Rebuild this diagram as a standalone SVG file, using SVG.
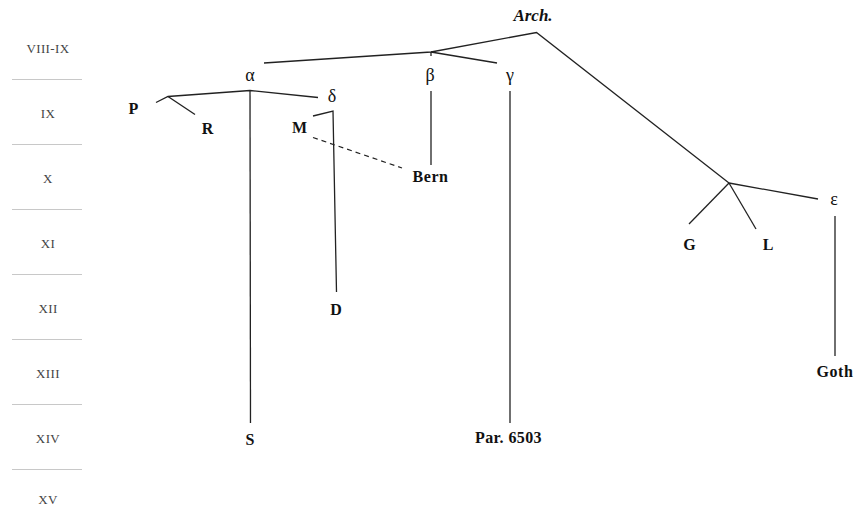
<svg xmlns="http://www.w3.org/2000/svg" width="856" height="508" viewBox="0 0 856 508">
<style>
.bg{fill:#fff}
.sep{stroke:#c8c8c8;stroke-width:1}
.cent{font-family:"Liberation Serif",serif;font-size:13px;fill:#444;text-anchor:middle;letter-spacing:0.4px}
.lbl{font-family:"Liberation Serif",serif;font-size:16px;font-weight:bold;fill:#111;text-anchor:middle}
.grk{font-family:"Liberation Serif",serif;font-size:18px;fill:#111;text-anchor:middle}
.arch{font-family:"Liberation Serif",serif;font-size:17px;font-weight:bold;font-style:italic;fill:#111;text-anchor:middle}
.ln{stroke:#222;stroke-width:1.3;fill:none}
.dash{stroke:#222;stroke-width:1.2;fill:none;stroke-dasharray:5,4}
</style>
<rect class="bg" x="0" y="0" width="856" height="508"/>
<g id="centuries">
<line class="sep" x1="12" y1="79.5" x2="82" y2="79.5"/>
<line class="sep" x1="12" y1="144.5" x2="82" y2="144.5"/>
<line class="sep" x1="12" y1="209.5" x2="82" y2="209.5"/>
<line class="sep" x1="12" y1="274.5" x2="82" y2="274.5"/>
<line class="sep" x1="12" y1="339.5" x2="82" y2="339.5"/>
<line class="sep" x1="12" y1="404.5" x2="82" y2="404.5"/>
<line class="sep" x1="12" y1="469.5" x2="82" y2="469.5"/>
<text class="cent" x="48" y="53">VIII-IX</text>
<text class="cent" x="48" y="118">IX</text>
<text class="cent" x="48" y="183">X</text>
<text class="cent" x="48" y="248">XI</text>
<text class="cent" x="48" y="313">XII</text>
<text class="cent" x="48" y="378">XIII</text>
<text class="cent" x="48" y="443">XIV</text>
<text class="cent" x="48" y="504">XV</text>
</g>
<g id="connectors">
<polyline class="ln" points="264,63 431,52 536.5,32.5 729,183"/>
<line class="ln" x1="431" y1="52" x2="431" y2="56"/>
<line class="ln" x1="431" y1="52" x2="497" y2="63"/>
<line class="ln" x1="431" y1="91" x2="431" y2="165"/>
<line class="ln" x1="510" y1="91" x2="510" y2="423"/>
<line class="ln" x1="729" y1="183" x2="689" y2="224"/>
<line class="ln" x1="729" y1="183" x2="756" y2="229"/>
<line class="ln" x1="729" y1="183" x2="818" y2="199"/>
<line class="ln" x1="835" y1="216" x2="835" y2="356"/>
<polyline class="ln" points="156,102.5 168,96.5 250,90.5 318,97.5"/>
<line class="ln" x1="168" y1="96.5" x2="195" y2="114.5"/>
<line class="ln" x1="250" y1="90.5" x2="250.5" y2="423"/>
<polyline class="ln" points="313,116 333,111 336.5,292"/>
<line class="dash" x1="313" y1="137.5" x2="402" y2="168"/>
</g>
<g id="n-arch"><text class="arch" x="533" y="21">Arch.</text></g>
<g id="n-alpha"><text class="grk" x="250" y="81">α</text></g>
<g id="n-beta"><text class="grk" x="430" y="81">β</text></g>
<g id="n-gamma"><text class="grk" x="510" y="81">γ</text></g>
<g id="n-delta"><text class="grk" x="332" y="102">δ</text></g>
<g id="n-epsilon"><text class="grk" x="834" y="205">ε</text></g>
<g id="n-P"><text class="lbl" x="133.5" y="114">P</text></g>
<g id="n-R"><text class="lbl" x="207.5" y="134">R</text></g>
<g id="n-M"><text class="lbl" x="299.5" y="133">M</text></g>
<g id="n-Bern"><text class="lbl" x="430.5" y="182" letter-spacing="0.6">Bern</text></g>
<g id="n-G"><text class="lbl" x="689.5" y="249.5">G</text></g>
<g id="n-L"><text class="lbl" x="768" y="249.5">L</text></g>
<g id="n-D"><text class="lbl" x="336" y="315">D</text></g>
<g id="n-Goth"><text class="lbl" x="835" y="377" letter-spacing="0.6">Goth</text></g>
<g id="n-S"><text class="lbl" x="250" y="445">S</text></g>
<g id="n-Par6503"><text class="lbl" x="508.5" y="443" letter-spacing="0.4">Par. 6503</text></g>
</svg>
